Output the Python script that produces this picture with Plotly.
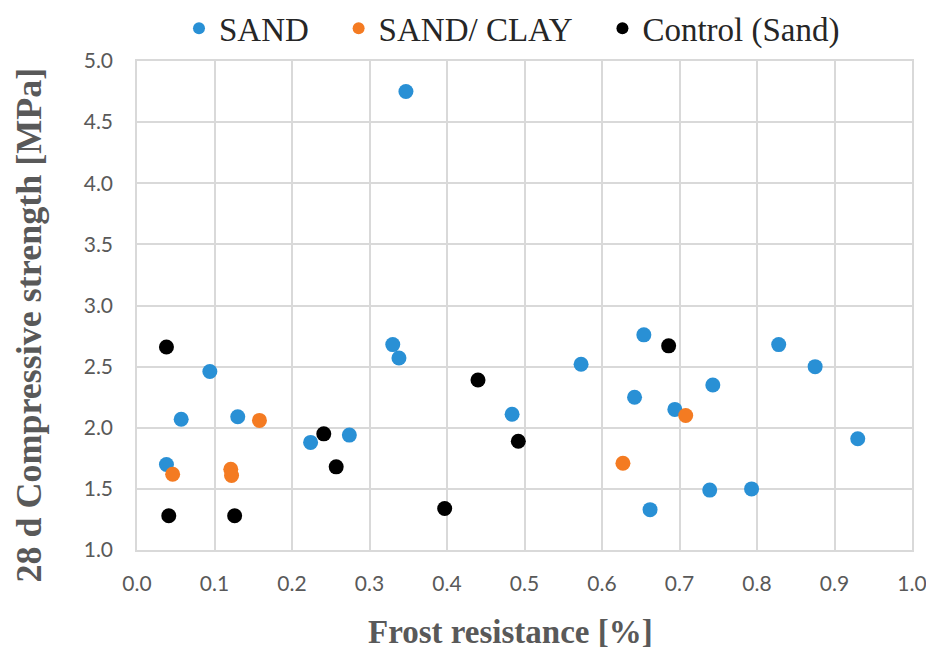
import plotly.graph_objects as go

# SAND
sand_x = [0.347, 0.094, 0.057, 0.130, 0.038, 0.224, 0.274, 0.330, 0.338, 0.484,
          0.573, 0.654, 0.642, 0.694, 0.743, 0.739, 0.793, 0.662, 0.828, 0.875, 0.930]
sand_y = [4.75, 2.46, 2.07, 2.09, 1.70, 1.88, 1.94, 2.68, 2.57, 2.11,
          2.52, 2.76, 2.25, 2.15, 2.35, 1.49, 1.50, 1.33, 2.68, 2.50, 1.91]
# SAND/ CLAY
clay_x = [0.158, 0.046, 0.121, 0.122, 0.708, 0.627]
clay_y = [2.06, 1.62, 1.66, 1.61, 2.10, 1.71]
# Control (Sand)
ctrl_x = [0.038, 0.041, 0.126, 0.241, 0.257, 0.440, 0.397, 0.492, 0.686]
ctrl_y = [2.66, 1.28, 1.28, 1.95, 1.68, 2.39, 1.34, 1.89, 2.67]

x_ticks = [0.0, 0.1, 0.2, 0.3, 0.4, 0.5, 0.6, 0.7, 0.8, 0.9, 1.0]
y_ticks = [1.0, 1.5, 2.0, 2.5, 3.0, 3.5, 4.0, 4.5, 5.0]

series_names = ["SAND", "SAND/ CLAY", "Control (Sand)"]
series_colors = ["#2990D5", "#F47B22", "#000000"]
x_title = "Frost resistance [%]"
y_title = "28 d Compressive strength [MPa]"
pad = "\u00a0" * 3

fig = go.Figure()
for name, xs, ys, col in zip(series_names, [sand_x, clay_x, ctrl_x],
                             [sand_y, clay_y, ctrl_y], series_colors):
    fig.add_trace(go.Scatter(x=xs, y=ys, mode="markers", name=name + pad,
                             marker=dict(color=col, size=15, line=dict(width=0))))

serif = "Liberation Serif, Times New Roman, serif"
tickfont = dict(family="Lato, Liberation Sans, Arial", size=21, color="#595959")
fig.update_layout(
    width=934, height=650,
    margin=dict(l=129, r=30, t=53, b=108, autoexpand=False),
    paper_bgcolor="white", plot_bgcolor="white",
    legend=dict(orientation="h", x=0.50, xanchor="center", y=1.067, yanchor="middle",
                yref="paper", font=dict(family=serif, size=33, color="#262626"),
                itemsizing="constant", itemwidth=30),
    showlegend=True,
    annotations=[
        dict(text="<b>" + x_title + "</b>", xref="paper", yref="paper", x=0.5, y=0,
             xshift=-14, yshift=-82, xanchor="center", yanchor="middle", showarrow=False,
             font=dict(family=serif, size=33, color="#595959")),
        dict(text="<b>" + y_title + "</b>", xref="paper", yref="paper", x=0, y=0.5,
             xshift=-109, yshift=-20, xanchor="center", yanchor="middle", showarrow=False,
             textangle=-90, font=dict(family=serif, size=36, color="#595959")),
    ],
)
fig.update_xaxes(range=[0, 1.0], tickvals=x_ticks, ticktext=[f"{v:.1f}" for v in x_ticks],
                 showgrid=True, gridcolor="#D9D9D9", gridwidth=1.5,
                 showline=True, linecolor="#D9D9D9", linewidth=1.5, mirror=True,
                 zeroline=False, ticks="", tickfont=tickfont, ticklabelstandoff=14,
                 automargin=False)
fig.update_yaxes(range=[1.0, 5.0], tickvals=y_ticks, ticktext=[f"{v:.1f}" for v in y_ticks],
                 showgrid=True, gridcolor="#D9D9D9", gridwidth=1.5,
                 showline=True, linecolor="#D9D9D9", linewidth=1.5, mirror=True,
                 zeroline=False, ticks="", tickfont=tickfont, ticklabelstandoff=18,
                 automargin=False)
fig.write_html("out.html")
